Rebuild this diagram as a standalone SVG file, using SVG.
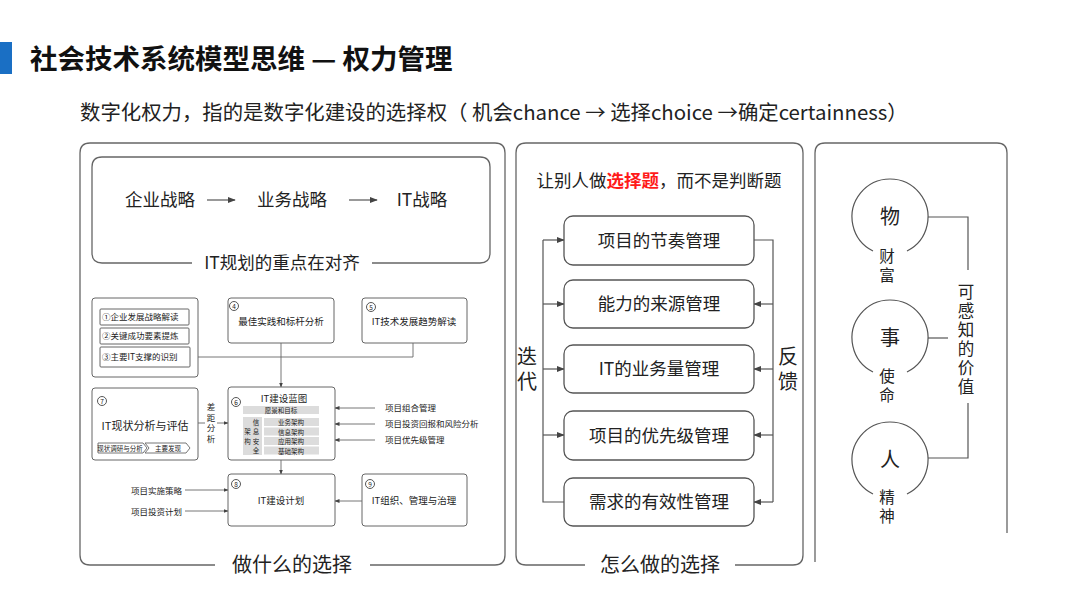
<svg xmlns="http://www.w3.org/2000/svg" width="1080" height="608" viewBox="0 0 1080 608">
<style>
text{font-family:"Noto Sans CJK SC","Noto Sans",sans-serif;fill:#222}
.vt{writing-mode:vertical-rl;text-orientation:upright}
.pan{fill:none;stroke:#666;stroke-width:1.3}
.box{fill:#fff;stroke:#555;stroke-width:1.3}
.sb{fill:#fff;stroke:#666;stroke-width:1}
.ln{fill:none;stroke:#555;stroke-width:1.2}
.sl{fill:none;stroke:#666;stroke-width:0.9}
.gb{fill:#dcdcdc}
.t18{font-size:17.5px}
.t20{font-size:20px}
.s10{font-size:9.5px}
.s9{font-size:8.5px}
.s7{font-size:6.5px}
.num{fill:#fff;stroke:#444;stroke-width:0.9}
</style>
<defs>
<marker id="ah" viewBox="0 0 10 10" refX="9" refY="5" markerWidth="8" markerHeight="8" orient="auto" markerUnits="userSpaceOnUse"><path d="M0,1 L10,5 L0,9 z" fill="#444"/></marker>
<marker id="as" viewBox="0 0 10 10" refX="9" refY="5" markerWidth="5" markerHeight="5" orient="auto" markerUnits="userSpaceOnUse"><path d="M0,1 L10,5 L0,9 z" fill="#444"/></marker>
</defs>
<rect width="1080" height="608" fill="#fff"/>
<g id="title">
<rect x="0" y="42" width="12" height="32" fill="#1a6fc4"/>
<text x="30" y="69" font-size="27.5" font-weight="bold" style="fill:#111">社会技术系统模型思维 — 权力管理</text>
<text x="80" y="120" font-size="20.4">数字化权力，指的是数字化建设的选择权（ 机会chance → 选择choice →确定certainness）</text>
</g>
<g id="panel-left">
<path class="pan" d="M215,565 H90 Q80,565 80,555 V153 Q80,143 90,143 H495 Q505,143 505,153 V555 Q505,565 495,565 H370"/>
<text x="292" y="572" class="t20" text-anchor="middle">做什么的选择</text>
<path class="pan" d="M192,263 H102 Q92,263 92,253 V167 Q92,157 102,157 H480 Q490,157 490,167 V253 Q490,263 480,263 H372"/>
<text x="282" y="269" class="t18" text-anchor="middle">IT规划的重点在对齐</text>
<text x="160" y="206" class="t18" text-anchor="middle">企业战略</text>
<text x="292" y="206" class="t18" text-anchor="middle">业务战略</text>
<text x="422" y="206" class="t18" text-anchor="middle">IT战略</text>
<line class="ln" x1="207" y1="200" x2="235" y2="200" marker-end="url(#ah)"/>
<line class="ln" x1="349" y1="200" x2="377" y2="200" marker-end="url(#ah)"/>
</g>
<g id="mini-connectors">
<path class="sl" d="M190,357 H413 V343"/>
<line class="sl" x1="281" y1="343" x2="281" y2="387" marker-end="url(#as)"/>
<line class="sl" x1="198" y1="423" x2="205" y2="423"/>
<line class="sl" x1="217" y1="423" x2="228" y2="423" marker-end="url(#as)"/>
<line class="sl" x1="375" y1="408" x2="335" y2="408" marker-end="url(#as)"/>
<line class="sl" x1="375" y1="424" x2="335" y2="424" marker-end="url(#as)"/>
<line class="sl" x1="375" y1="440" x2="335" y2="440" marker-end="url(#as)"/>
<line class="sl" x1="281" y1="460" x2="281" y2="474" marker-end="url(#as)"/>
<line class="sl" x1="362" y1="501" x2="335" y2="501" marker-end="url(#as)"/>
<line class="sl" x1="185" y1="490" x2="228" y2="490" marker-end="url(#as)"/>
<line class="sl" x1="185" y1="511" x2="228" y2="511" marker-end="url(#as)"/>
</g>
<g id="mini-1-3">
<rect class="sb" x="92" y="298" width="106" height="79" rx="3"/>
<rect class="sb" x="100" y="309" width="89" height="16" rx="1"/>
<rect class="sb" x="100" y="328" width="89" height="16" rx="1"/>
<rect class="sb" x="100" y="347" width="90" height="20" rx="1"/>
<text x="102" y="320" class="s9">①企业发展战略解读</text>
<text x="102" y="339" class="s9">②关键成功要素提炼</text>
<text x="102" y="360" class="s9">③主要IT支撑的识别</text>
</g>
<g id="mini-4">
<rect class="sb" x="228" y="298" width="106" height="45" rx="3"/>
<circle class="num" cx="234" cy="306" r="4.5"/><text x="234" y="308.5" class="s7" text-anchor="middle">4</text>
<text x="281" y="325" class="s10" text-anchor="middle">最佳实践和标杆分析</text>
</g>
<g id="mini-5">
<rect class="sb" x="362" y="298" width="105" height="45" rx="3"/>
<circle class="num" cx="371" cy="307" r="4.5"/><text x="371" y="309.5" class="s7" text-anchor="middle">5</text>
<text x="414" y="325" class="s10" text-anchor="middle">IT技术发展趋势解读</text>
</g>
<g id="mini-7">
<rect class="sb" x="92" y="388" width="106" height="72" rx="3"/>
<circle class="num" cx="102" cy="401" r="4.5"/><text x="102" y="403.5" class="s7" text-anchor="middle">7</text>
<text x="145" y="430" font-size="11" text-anchor="middle">IT现状分析与评估</text>
<path class="sl" d="M98,443 H143 L147,448 L143,453 H98 Z"/>
<path class="sl" d="M145,443 H186 L190,448 L186,453 H145 L149,448 Z"/>
<text x="120" y="451" class="s7" text-anchor="middle">现状调研与分析</text>
<text x="168" y="451" class="s7" text-anchor="middle">主要发现</text>
<text x="211" y="402.5" class="s9 vt" letter-spacing="2.2">差距分析</text>
</g>
<g id="mini-6">
<rect class="sb" x="228" y="387" width="107" height="73" rx="3"/>
<circle class="num" cx="236" cy="402" r="4.5"/><text x="236" y="404.5" class="s7" text-anchor="middle">6</text>
<text x="284" y="402" class="s10" text-anchor="middle">IT建设蓝图</text>
<rect class="gb" x="243" y="406" width="76" height="8"/>
<text x="281" y="413" class="s7" text-anchor="middle">愿景和目标</text>
<rect class="gb" x="243" y="417" width="19" height="38"/>
<text x="256" y="419.3" class="s7 vt" letter-spacing="2.8">信息安全</text>
<text x="247.5" y="428.3" class="s7 vt" letter-spacing="3.5">架构</text>
<rect class="gb" x="264" y="418" width="55" height="8"/>
<rect class="gb" x="264" y="427.5" width="55" height="8"/>
<rect class="gb" x="264" y="437" width="55" height="8"/>
<rect class="gb" x="264" y="446.5" width="55" height="8"/>
<text x="291" y="425" class="s7" text-anchor="middle">业务架构</text>
<text x="291" y="434.5" class="s7" text-anchor="middle">信息架构</text>
<text x="291" y="444" class="s7" text-anchor="middle">应用架构</text>
<text x="291" y="453.5" class="s7" text-anchor="middle">基础架构</text>
<text x="385" y="411" class="s9">项目组合管理</text>
<text x="385" y="427" class="s9">项目投资回报和风险分析</text>
<text x="385" y="443" class="s9">项目优先级管理</text>
</g>
<g id="mini-8">
<rect class="sb" x="228" y="474" width="107" height="52" rx="3"/>
<circle class="num" cx="236" cy="484" r="4.5"/><text x="236" y="486.5" class="s7" text-anchor="middle">8</text>
<text x="281" y="504" class="s10" text-anchor="middle">IT建设计划</text>
<text x="182" y="494" class="s9" text-anchor="end">项目实施策略</text>
<text x="182" y="515" class="s9" text-anchor="end">项目投资计划</text>
</g>
<g id="mini-9">
<rect class="sb" x="362" y="474" width="105" height="52" rx="3"/>
<circle class="num" cx="370" cy="484" r="4.5"/><text x="370" y="486.5" class="s7" text-anchor="middle">9</text>
<text x="414" y="504" class="s10" text-anchor="middle">IT组织、管理与治理</text>
</g>
<g id="panel-mid">
<path class="pan" d="M585,565 H526 Q516,565 516,555 V153 Q516,143 526,143 H793 Q803,143 803,153 V555 Q803,565 793,565 H735"/>
<text x="660" y="572" class="t20" text-anchor="middle">怎么做的选择</text>
<text x="659" y="187" font-size="17.5" text-anchor="middle">让别人做<tspan font-weight="bold" style="fill:#ff1a1a">选择题</tspan>，而不是判断题</text>
<text x="527" y="346" class="t20 vt" letter-spacing="5">迭代</text>
<text x="788" y="346" class="t20 vt" letter-spacing="5">反馈</text>
</g>
<g id="mid-connectors">
<path class="ln" d="M564,502 H543 V240"/>
<line class="ln" x1="543" y1="240" x2="564" y2="240" marker-end="url(#ah)"/>
<line class="ln" x1="543" y1="304" x2="564" y2="304" marker-end="url(#ah)"/>
<line class="ln" x1="543" y1="369" x2="564" y2="369" marker-end="url(#ah)"/>
<line class="ln" x1="543" y1="435" x2="564" y2="435" marker-end="url(#ah)"/>
<path class="ln" d="M754,240 H773 V502"/>
<line class="ln" x1="773" y1="304" x2="754" y2="304" marker-end="url(#ah)"/>
<line class="ln" x1="773" y1="369" x2="754" y2="369" marker-end="url(#ah)"/>
<line class="ln" x1="773" y1="435" x2="754" y2="435" marker-end="url(#ah)"/>
<line class="ln" x1="773" y1="502" x2="754" y2="502" marker-end="url(#ah)"/>
</g>
<g id="m1"><rect class="box" x="564" y="216" width="190" height="49" rx="9"/><text x="659" y="247" class="t18" text-anchor="middle">项目的节奏管理</text></g>
<g id="m2"><rect class="box" x="564" y="280" width="190" height="48" rx="9"/><text x="659" y="310" class="t18" text-anchor="middle">能力的来源管理</text></g>
<g id="m3"><rect class="box" x="564" y="345" width="190" height="48" rx="9"/><text x="659" y="375" class="t18" text-anchor="middle">IT的业务量管理</text></g>
<g id="m4"><rect class="box" x="564" y="411" width="190" height="49" rx="9"/><text x="659" y="442" class="t18" text-anchor="middle">项目的优先级管理</text></g>
<g id="m5"><rect class="box" x="564" y="478" width="190" height="48" rx="9"/><text x="659" y="508" class="t18" text-anchor="middle">需求的有效性管理</text></g>
<g id="panel-right">
<path class="pan" d="M815,562 V153 Q815,143 825,143 H997 Q1007,143 1007,153 V533"/>
</g>
<g id="right-connectors">
<path class="ln" d="M928,217 H968 V270"/>
<path class="ln" d="M968,403 V458 H928"/>
<line class="ln" x1="928" y1="338" x2="948" y2="338"/>
<text x="966" y="283" font-size="16.5" class="vt" letter-spacing="2.5">可感知的价值</text>
</g>
<g id="c-wu">
<path class="ln" d="M873,251 A38,38 0 1 1 907,251"/>
<text x="890" y="224" class="t20" text-anchor="middle">物</text>
<text x="887" y="248" font-size="15.5" class="vt" letter-spacing="3.5">财富</text>
</g>
<g id="c-shi">
<path class="ln" d="M873,372 A38,38 0 1 1 907,372"/>
<text x="890" y="345" class="t20" text-anchor="middle">事</text>
<text x="887" y="368" font-size="15.5" class="vt" letter-spacing="3.5">使命</text>
</g>
<g id="c-ren">
<path class="ln" d="M873,494 A38,38 0 1 1 907,494"/>
<text x="890" y="467" class="t20" text-anchor="middle">人</text>
<text x="887" y="489" font-size="15.5" class="vt" letter-spacing="3.5">精神</text>
</g>
</svg>
